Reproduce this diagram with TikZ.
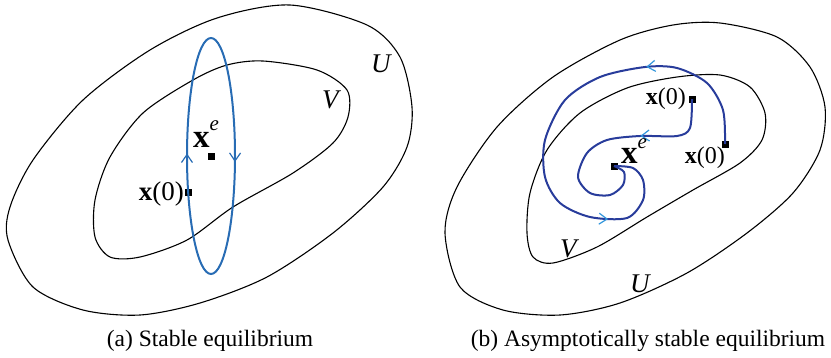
\documentclass[tikz,border=0pt]{standalone}
\usepackage{fontspec}
\setmainfont{Liberation Serif}
\usetikzlibrary{arrows.meta,decorations.markings}
\definecolor{ellblue}{RGB}{40,108,180}
\definecolor{trajblue}{RGB}{40,60,155}
\definecolor{tipblue}{RGB}{50,150,220}
\begin{document}
\begin{tikzpicture}[x=1pt,y=-1pt,
  region/.style={draw=black,line width=1.1pt},
  orbit/.style={draw=ellblue,line width=2pt},
  traj/.style={draw=trajblue,line width=2pt},
  pt/.style={fill=black,inner sep=0pt,minimum size=7pt,rectangle},
  lblA/.style={font=\fontsize{27}{30}\selectfont,inner sep=0pt},
  lblB/.style={font=\fontsize{24}{28}\selectfont,inner sep=0pt},
  lblE/.style={font=\fontsize{33}{36}\selectfont,inner sep=0pt},
  captext/.style={font=\fontsize{23.5}{28}\selectfont,inner sep=0pt},
  midarrow/.style 2 args={postaction={decorate,decoration={markings,
     mark=at position #1 with {\arrow[#2,line width=1.2pt]{Straight Barb[length=8pt,width=11pt]}}}}}
]
\useasboundingbox (0,0) rectangle (831,357);
% ---------- (a) ----------
\draw[region] plot[smooth cycle] coordinates {(290,5) (367,25) (400,57) (412,107) (407,147) (383,187) (333,233) (267,277) (200,303) (140,315) (83,310) (33,287) (8,240) (10,207) (33,160) (83,100) (150,50) (217,18)};
\draw[region] plot[smooth cycle] coordinates {(263,61) (317,70) (347,90) (348,117) (333,143) (293,173) (233,207) (187,240) (140,257) (110,257) (95,237) (95,200) (110,157) (143,113) (193,80) (227,65)};
\node[pt] (xeA) at (211,156) {};
\node[pt] (x0A) at (188.5,192) {};
\draw[orbit,midarrow={0.012}{ellblue},midarrow={0.505}{ellblue}] (xeA.center) ellipse [x radius=24, y radius=118];
\node[lblA,anchor=base east] (x0Alab) at (184,200) {\textbf{x}(0)};
\node[lblE,anchor=base west] (xeAlab) at (193,147) {\textbf{x}\raisebox{0.5em}{\fontsize{21}{21}\selectfont\textit{e}}};
\node[lblA,anchor=base west] (UA) at (371,72) {\textit{U}};
\node[lblA,anchor=base west] (VA) at (322,108) {\textit{V}};
\node[captext,anchor=base] (capA) at (210,346) {(a) Stable equilibrium};
% ---------- (b) ----------
\draw[region] plot[smooth cycle] coordinates {(720,23) (777,37) (810,67) (825,107) (820,150) (793,193) (747,233) (687,273) (620,303) (560,315) (503,310) (460,287) (445,233) (457,187) (497,127) (553,77) (620,40) (673,25)};
\draw[region] plot[smooth cycle] coordinates {(720,75) (750,87) (765,113) (762,140) (740,163) (693,190) (647,217) (597,247) (553,263) (533,257) (527,233) (530,193) (547,150) (580,113) (627,88) (677,77)};
\node[pt] (xeB) at (614,166) {};
\node[pt] (x0B1) at (692,99) {};
\node[pt] (x0B2) at (725,144) {};
\draw[traj,midarrow={0.27}{tipblue},midarrow={0.795}{tipblue}] plot[smooth] coordinates {(x0B2.center) (723,110) (707,83) (677,68) (645,67) (600,77) (565,100) (545,140) (545,177) (560,203) (590,217) (627,218) (643,200) (643,180) (633,168) (xeB.center)};
\draw[traj,midarrow={0.33}{tipblue}] plot[smooth] coordinates {(x0B1.center) (690,128) (677,136) (640,136) (607,140) (587,153) (578,177) (590,193) (610,195) (623,185) (624,172) (xeB.center)};
\node[lblB,anchor=base east] (x0B1lab) at (686,104) {\textbf{x}(0)};
\node[lblB,anchor=base east] (x0B2lab) at (725,163) {\textbf{x}(0)};
\node[lblE,anchor=base west] (xeBlab) at (621,163) {\textbf{x}\raisebox{0.45em}{\fontsize{21}{21}\selectfont\textit{e}}};
\node[lblA,anchor=base west] (UB) at (630,292) {\textit{U}};
\node[lblA,anchor=base west] (VB) at (560,257) {\textit{V}};
\node[captext,anchor=base] (capB) at (648,346) {(b) Asymptotically stable equilibrium};
\end{tikzpicture}
\end{document}
